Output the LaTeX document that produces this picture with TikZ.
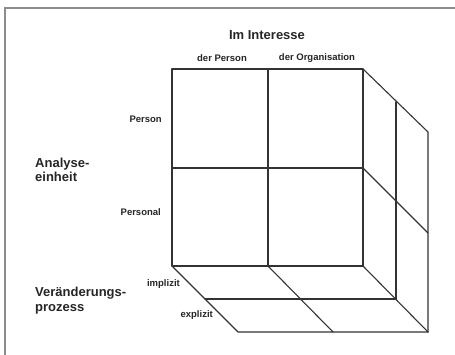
\documentclass[tikz,border=0pt]{standalone}
\usepackage{fontspec}
\setmainfont{Liberation Sans}
\begin{document}
\begin{tikzpicture}[x=1pt,y=-1pt,
  edge/.style={line width=1.1pt,draw=black!80,line cap=round,line join=round},
  frameline/.style={line width=1.6pt,draw=black!45},
  bigtxt/.style={font=\fontsize{13}{15}\selectfont\bfseries,text=black!85,inner sep=0pt},
  smalltxt/.style={font=\fontsize{9.5}{11}\selectfont\bfseries,text=black!85,inner sep=0pt}]
\useasboundingbox (0,0) rectangle (455,355);
\fill[white] (0,0) rectangle (455,355);
% frame (top and left only)
\draw[frameline] (5,355) -- (5,8) -- (455,8);
% front face corners
\coordinate (A) at (172,69);   % front top left
\coordinate (B) at (363,69);   % front top right
\coordinate (C) at (363,266);  % front bottom right
\coordinate (D) at (172,266);  % front bottom left
% front face
\draw[edge] (A) rectangle (C);
\draw[edge] (268,69) -- (268,266);
\draw[edge] (172,168) -- (363,168);
% right face
\draw[edge] (B) -- (428,132) -- (428,332);
\draw[edge] (C) -- (428,332);
\draw[edge] (396,102) -- (396,299);
\draw[edge] (363,168) -- (428,233);
% bottom face
\draw[edge] (D) -- (238,332) -- (428,332);
\draw[edge] (205,299) -- (396,299);
\draw[edge] (268,266) -- (333,332);
% texts
\node[bigtxt] (title) at (267,35) {Im Interesse};
\node[smalltxt] (dp) at (222,58) {der Person};
\node[smalltxt] (do) at (317,58) {der Organisation};
\node[smalltxt,anchor=east] (pers) at (162,119) {Person};
\node[smalltxt,anchor=east] (perl) at (161,212) {Personal};
\node[bigtxt,anchor=west,align=left] (ana) at (35,170) {Analyse-\\[-0.5pt]einheit};
\node[bigtxt,anchor=west,align=left] (ver) at (35,300.5) {Veränderungs-\\[-0.5pt]prozess};
\node[smalltxt,anchor=east] (imp) at (180,284) {implizit};
\node[smalltxt,anchor=east] (exp) at (213,315) {explizit};
\end{tikzpicture}
\end{document}
